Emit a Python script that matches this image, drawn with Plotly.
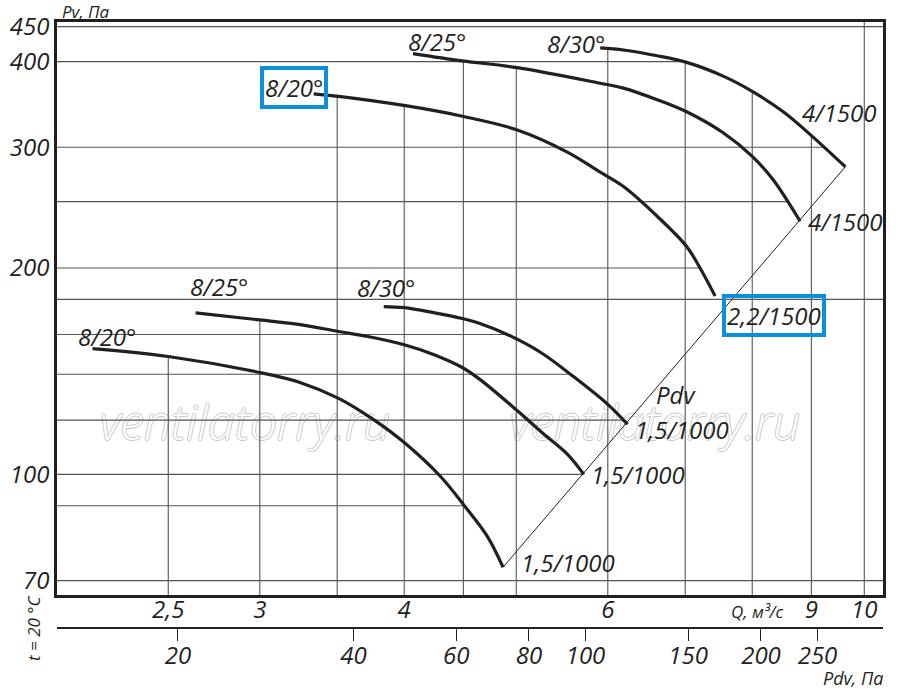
import numpy as np
import plotly.graph_objects as go

# Fan curves, Q in m3/s, Pv in Pa
# 1000 rpm, 1,5 kW
q_lo20 = [2.15, 2.50, 3.00, 3.25, 3.51, 3.76, 4.00, 4.30, 4.50, 4.72, 4.87]
p_lo20 = [152.6, 148.6, 140.8, 136.2, 129.1, 120.3, 111.3, 99.3, 90.4, 81.2, 73.2]
q_lo25 = [2.64, 3.00, 3.25, 3.51, 3.72, 4.00, 4.24, 4.49, 4.65, 5.02, 5.25, 5.54, 5.72]
p_lo25 = [172, 168, 165.4, 161.6, 158.9, 154.6, 149.6, 143.2, 137.6, 123.5, 115.5, 106.9, 100]
q_lo30 = [3.84, 4.00, 4.24, 4.49, 4.65, 4.91, 5.25, 5.60, 6.00, 6.24]
p_lo30 = [175.7, 175.1, 172.2, 168.8, 166.0, 160.0, 150.6, 139.0, 126.5, 118.3]
# 1500 rpm, 2,2 / 4 kW
q_hi20 = [3.34, 3.51, 4.01, 4.49, 5.01, 5.54, 5.91, 6.19, 6.62, 7.02, 7.21, 7.43]
p_hi20 = [359, 356, 345, 333, 318, 295, 276, 263, 238, 215, 200, 182]
q_hi25 = [4.07, 4.49, 5.01, 5.91, 6.19, 6.62, 7.02, 7.55, 8.00, 8.34, 8.80]
p_hi25 = [411, 401, 392, 372, 366, 352, 338, 315, 291, 269, 234]
q_hi30 = [5.91, 6.19, 6.62, 7.02, 7.55, 8.00, 8.51, 9.02, 9.63]
p_hi30 = [419, 416, 408, 399, 381, 362, 338, 311, 281]

angle_labels = ["8/20°", "8/25°", "8/30°"]
motor_lo = ["1,5/1000", "1,5/1000", "1,5/1000"]
motor_hi = ["2,2/1500", "4/1500", "4/1500"]

# axes ticks
q_ticks = [2.5, 3, 4, 6, 9, 10]
q_ticktext = ["2,5", "3", "4", "6", "9", "10"]
p_ticks = [70, 100, 200, 300, 400, 450]
pdv_ticks = [20, 40, 60, 80, 100, 150, 200, 250]
grid_q = [2.5, 3, 3.5, 4, 4.5, 5, 6, 7, 8, 9, 10]
grid_p = [70, 90, 100, 120, 140, 160, 180, 200, 250, 300, 400, 450]

QR = [0.3017, 1.0162]     # log10 range of Q
PR = [1.8241, 2.6599]     # log10 range of Pv
DR = [1.0935, 2.5103]     # log10 range of Pdv

FONT = "Open Sans"
INK = "#231f20"
BLUE = "#0a8fdc"

curves = [
    (q_lo20, p_lo20), (q_lo25, p_lo25), (q_lo30, p_lo30),
    (q_hi20, p_hi20), (q_hi25, p_hi25), (q_hi30, p_hi30),
]
curves = [(np.array(q, float), np.array(p, float)) for q, p in curves]

# Pdv line joins curve ends
pdv_q = [q_lo20[-1], q_hi30[-1]]
pdv_p = [p_lo20[-1], p_hi30[-1]]
bounds = curves + [(np.array(pdv_q), np.array(pdv_p))]


def p_at(q, qs, ps):
    return 10 ** np.interp(np.log10(q), np.log10(qs), np.log10(ps))


def q_at(p, qs, ps):
    return 10 ** np.interp(np.log10(p), np.log10(ps[::-1]), np.log10(qs[::-1]))


# grid lines clipped by the curves (drafting style)
gx, gy = [], []
for q in grid_q:
    tops = [p_at(q, qs, ps) for qs, ps in curves if qs[0] <= q <= qs[-1]]
    top = max(tops) if tops else 10 ** PR[1]
    gx += [q, q, None]
    gy += [10 ** PR[0], top, None]
for p in grid_p:
    rights = [q_at(p, qs, ps) for qs, ps in bounds if ps[-1] <= p <= ps[0]]
    right = max(rights) if rights else 10 ** QR[1]
    gx += [10 ** QR[0], right, None]
    gy += [p, p, None]


def px(x):
    return (x - 57) / 826


def py(y):
    return (628 - y) / 606


fig = go.Figure()

# watermark, under the grid and curves
wm_x = [10 ** (QR[0] + px(cx) * (QR[1] - QR[0])) for cx in (245, 655)]
wm_y = [10 ** (PR[1] - (428 - 22) / 573 * (PR[1] - PR[0]))] * 2
fig.add_trace(go.Scatter(
    x=wm_x, y=wm_y, mode="text", text=["ventilatorry.ru"] * 2,
    textposition="middle center", hoverinfo="skip",
    textfont=dict(family=FONT, size=48, color="white", style="italic", weight=300,
                  shadow="1px 0 0 #c8c8c8, -1px 0 0 #c8c8c8, 0 1px 0 #c8c8c8, 0 -1px 0 #c8c8c8")))

fig.add_trace(go.Scatter(x=gx, y=gy, mode="lines",
                         line=dict(color="#555555", width=1.1), hoverinfo="skip"))
fig.add_trace(go.Scatter(x=pdv_q, y=pdv_p, mode="lines",
                         line=dict(color=INK, width=1), hoverinfo="skip"))
for qs, ps in curves:
    fig.add_trace(go.Scatter(x=qs, y=ps, mode="lines",
                             line=dict(color=INK, width=3.2, shape="spline", smoothing=1.0)))
# dummy trace to carry the Pdv axis
fig.add_trace(go.Scatter(x=[None], y=[None], xaxis="x2", mode="lines"))

lab_font = dict(family=FONT, size=24, color=INK, style="italic")
ann = []
# start labels: (dx, dy) in px from curve start, text centre
start_off = [(14, 12), (23, 26), (2, 19), (-20, 6), (24, 12), (-24, 4)]
# end labels: (dx, dy) from curve end, left anchored
end_off = [(16, 5), (5, 0), (6, -5), (7, -19), (6, 0), (-45, 54)]
end_text = motor_lo + motor_hi
for i, (qs, ps) in enumerate(curves):
    boxed = i == 3
    box = dict(bordercolor=BLUE, borderwidth=4, borderpad=1) if boxed else {}
    dx, dy = start_off[i]
    ann.append(dict(x=np.log10(qs[0]), y=np.log10(ps[0]), xref="x", yref="y",
                    text=angle_labels[i % 3], showarrow=False, xanchor="center",
                    yanchor="middle", xshift=dx, yshift=dy, font=lab_font, **box))
    dx, dy = end_off[i]
    ann.append(dict(x=np.log10(qs[-1]), y=np.log10(ps[-1]), xref="x", yref="y",
                    text=end_text[i], showarrow=False, xanchor="left",
                    yanchor="middle", xshift=dx, yshift=dy, font=lab_font, **box))

small = dict(family=FONT, size=17, color=INK, style="italic")
ann += [
    dict(x=px(60), y=py(-2), xref="paper", yref="paper", text="Pv, Па",
         showarrow=False, xanchor="left", yanchor="top", font=small),
    dict(x=px(757), y=py(611), xref="paper", yref="paper", text="Q, м³/с",
         showarrow=False, xanchor="center", yanchor="middle", font=small),
    dict(x=px(853), y=py(678), xref="paper", yref="paper", text="Pdv, Па",
         showarrow=False, xanchor="center", yanchor="middle",
         font=dict(small, size=18)),
    dict(x=px(33), y=py(628), xref="paper", yref="paper", text="t = 20 °C",
         showarrow=False, textangle=-90, xanchor="center", yanchor="middle",
         font=small),
    dict(x=px(676), y=py(394), xref="paper", yref="paper", text="Pdv",
         showarrow=False, xanchor="center", yanchor="middle", font=lab_font),
]

tick_font = dict(family=FONT, size=24, color=INK, style="italic")
fig.update_layout(
    width=900, height=695,
    margin=dict(l=57, r=17, t=22, b=67),
    paper_bgcolor="white", plot_bgcolor="white",
    showlegend=False,
    annotations=ann,
    xaxis=dict(type="log", range=QR, domain=[0, 1], anchor="y", automargin=False,
               tickvals=q_ticks, ticktext=q_ticktext, tickfont=tick_font,
               ticklabelstandoff=-9,
               showgrid=False, zeroline=False, ticks="", ticklen=0,
               showline=True, linewidth=2.6, linecolor=INK, mirror=True),
    xaxis2=dict(type="log", range=DR, domain=[0, 1], anchor="free", position=0,
                overlaying="x", side="bottom", automargin=False,
                tickvals=pdv_ticks, ticktext=[str(v) for v in pdv_ticks],
                tickfont=tick_font, ticklabelstandoff=-6,
                showgrid=False, zeroline=False,
                ticks="outside", ticklen=12, tickwidth=1.2, tickcolor=INK,
                showline=True, linewidth=2, linecolor=INK),
    yaxis=dict(type="log", range=PR, domain=[0.0545, 1], automargin=False,
               tickvals=p_ticks, ticktext=[str(v) for v in p_ticks],
               tickfont=tick_font, showgrid=False, zeroline=False, ticks="",
               showline=True, linewidth=2.6, linecolor=INK, mirror=True),
)

fig.write_html("out.html", config={"displayModeBar": False},
               post_script="document.body.style.margin = '0';")
